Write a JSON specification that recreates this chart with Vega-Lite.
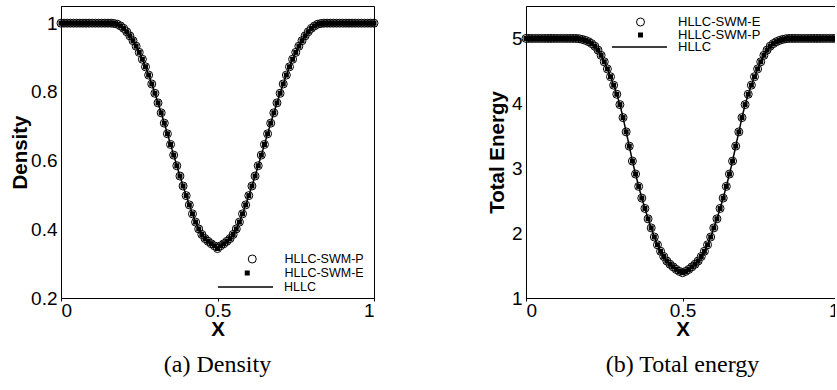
{
  "$schema": "https://vega.github.io/schema/vega-lite/v6.json",
  "background": "white",
  "padding": {"left": 10, "top": 5, "right": -11, "bottom": 0},
  "spacing": 152,
  "bounds": "flush",
  "config": {
    "font": "Liberation Sans",
    "view": {"stroke": "black", "strokeWidth": 1},
    "axis": {
      "grid": false,
      "domainColor": "black",
      "domainWidth": 1,
      "tickColor": "black",
      "labelColor": "black",
      "titleColor": "black",
      "labelFont": "Liberation Sans",
      "labelFontSize": 19,
      "titleFont": "Liberation Sans",
      "titleFontSize": 20.5,
      "titleFontWeight": "bold"
    },
    "axisX": {"tickSize": 3, "labelPadding": 0, "titlePadding": -1, "format": "~g"},
    "axisY": {"ticks": false, "labelPadding": 4, "format": "~g"},
    "legend": {
      "labelFont": "Liberation Sans",
      "labelFontSize": 12.5,
      "labelColor": "black",
      "clipHeight": 12,
      "padding": 0,
      "symbolStrokeColor": "black",
      "symbolStrokeWidth": 1,
      "symbolOpacity": 1,
      "orient": "none"
    },
    "title": {"font": "Liberation Serif", "fontSize": 24, "fontWeight": "normal", "color": "black"}
  },
  "datasets": {
    "density": [
      {"x": 0, "swmP": 1, "swmE": 1, "hllc": 1},
      {"x": 0.01, "swmP": 1, "swmE": 1, "hllc": 1},
      {"x": 0.02, "swmP": 1, "swmE": 1, "hllc": 1},
      {"x": 0.03, "swmP": 1, "swmE": 1, "hllc": 1},
      {"x": 0.04, "swmP": 1, "swmE": 1, "hllc": 1},
      {"x": 0.05, "swmP": 1, "swmE": 1, "hllc": 1},
      {"x": 0.06, "swmP": 1, "swmE": 1, "hllc": 1},
      {"x": 0.07, "swmP": 1, "swmE": 1, "hllc": 1},
      {"x": 0.08, "swmP": 1, "swmE": 1, "hllc": 1},
      {"x": 0.09, "swmP": 1, "swmE": 1, "hllc": 1},
      {"x": 0.1, "swmP": 1, "swmE": 1, "hllc": 1},
      {"x": 0.11, "swmP": 1, "swmE": 1, "hllc": 1},
      {"x": 0.12, "swmP": 1, "swmE": 1, "hllc": 1},
      {"x": 0.13, "swmP": 1, "swmE": 1, "hllc": 1},
      {"x": 0.14, "swmP": 1, "swmE": 1, "hllc": 1},
      {"x": 0.15, "swmP": 1, "swmE": 1, "hllc": 1},
      {"x": 0.16, "swmP": 1, "swmE": 1, "hllc": 1},
      {"x": 0.17, "swmP": 0.999, "swmE": 0.999, "hllc": 0.999},
      {"x": 0.18, "swmP": 0.997, "swmE": 0.997, "hllc": 0.997},
      {"x": 0.19, "swmP": 0.992, "swmE": 0.992, "hllc": 0.992},
      {"x": 0.2, "swmP": 0.985, "swmE": 0.985, "hllc": 0.985},
      {"x": 0.21, "swmP": 0.975, "swmE": 0.975, "hllc": 0.975},
      {"x": 0.22, "swmP": 0.963, "swmE": 0.963, "hllc": 0.963},
      {"x": 0.23, "swmP": 0.949, "swmE": 0.949, "hllc": 0.949},
      {"x": 0.24, "swmP": 0.933, "swmE": 0.933, "hllc": 0.933},
      {"x": 0.25, "swmP": 0.915, "swmE": 0.915, "hllc": 0.915},
      {"x": 0.26, "swmP": 0.895, "swmE": 0.895, "hllc": 0.895},
      {"x": 0.27, "swmP": 0.873, "swmE": 0.873, "hllc": 0.873},
      {"x": 0.28, "swmP": 0.849, "swmE": 0.849, "hllc": 0.849},
      {"x": 0.29, "swmP": 0.823, "swmE": 0.823, "hllc": 0.823},
      {"x": 0.3, "swmP": 0.796, "swmE": 0.796, "hllc": 0.796},
      {"x": 0.31, "swmP": 0.768, "swmE": 0.768, "hllc": 0.768},
      {"x": 0.32, "swmP": 0.739, "swmE": 0.739, "hllc": 0.739},
      {"x": 0.33, "swmP": 0.709, "swmE": 0.709, "hllc": 0.709},
      {"x": 0.34, "swmP": 0.678, "swmE": 0.678, "hllc": 0.678},
      {"x": 0.35, "swmP": 0.647, "swmE": 0.647, "hllc": 0.647},
      {"x": 0.36, "swmP": 0.616, "swmE": 0.616, "hllc": 0.616},
      {"x": 0.37, "swmP": 0.585, "swmE": 0.585, "hllc": 0.585},
      {"x": 0.38, "swmP": 0.555, "swmE": 0.555, "hllc": 0.555},
      {"x": 0.39, "swmP": 0.526, "swmE": 0.526, "hllc": 0.526},
      {"x": 0.4, "swmP": 0.498, "swmE": 0.498, "hllc": 0.498},
      {"x": 0.41, "swmP": 0.471, "swmE": 0.471, "hllc": 0.471},
      {"x": 0.42, "swmP": 0.445, "swmE": 0.445, "hllc": 0.445},
      {"x": 0.43, "swmP": 0.421, "swmE": 0.421, "hllc": 0.421},
      {"x": 0.44, "swmP": 0.401, "swmE": 0.401, "hllc": 0.401},
      {"x": 0.45, "swmP": 0.385, "swmE": 0.385, "hllc": 0.385},
      {"x": 0.46, "swmP": 0.373, "swmE": 0.373, "hllc": 0.373},
      {"x": 0.47, "swmP": 0.365, "swmE": 0.365, "hllc": 0.365},
      {"x": 0.48, "swmP": 0.358, "swmE": 0.358, "hllc": 0.358},
      {"x": 0.49, "swmP": 0.352, "swmE": 0.352, "hllc": 0.352},
      {"x": 0.5, "swmP": 0.344, "swmE": 0.344, "hllc": 0.344},
      {"x": 0.51, "swmP": 0.352, "swmE": 0.352, "hllc": 0.352},
      {"x": 0.52, "swmP": 0.358, "swmE": 0.358, "hllc": 0.358},
      {"x": 0.53, "swmP": 0.365, "swmE": 0.365, "hllc": 0.365},
      {"x": 0.54, "swmP": 0.373, "swmE": 0.373, "hllc": 0.373},
      {"x": 0.55, "swmP": 0.385, "swmE": 0.385, "hllc": 0.385},
      {"x": 0.56, "swmP": 0.401, "swmE": 0.401, "hllc": 0.401},
      {"x": 0.57, "swmP": 0.421, "swmE": 0.421, "hllc": 0.421},
      {"x": 0.58, "swmP": 0.445, "swmE": 0.445, "hllc": 0.445},
      {"x": 0.59, "swmP": 0.471, "swmE": 0.471, "hllc": 0.471},
      {"x": 0.6, "swmP": 0.498, "swmE": 0.498, "hllc": 0.498},
      {"x": 0.61, "swmP": 0.526, "swmE": 0.526, "hllc": 0.526},
      {"x": 0.62, "swmP": 0.555, "swmE": 0.555, "hllc": 0.555},
      {"x": 0.63, "swmP": 0.585, "swmE": 0.585, "hllc": 0.585},
      {"x": 0.64, "swmP": 0.616, "swmE": 0.616, "hllc": 0.616},
      {"x": 0.65, "swmP": 0.647, "swmE": 0.647, "hllc": 0.647},
      {"x": 0.66, "swmP": 0.678, "swmE": 0.678, "hllc": 0.678},
      {"x": 0.67, "swmP": 0.709, "swmE": 0.709, "hllc": 0.709},
      {"x": 0.68, "swmP": 0.739, "swmE": 0.739, "hllc": 0.739},
      {"x": 0.69, "swmP": 0.768, "swmE": 0.768, "hllc": 0.768},
      {"x": 0.7, "swmP": 0.796, "swmE": 0.796, "hllc": 0.796},
      {"x": 0.71, "swmP": 0.823, "swmE": 0.823, "hllc": 0.823},
      {"x": 0.72, "swmP": 0.849, "swmE": 0.849, "hllc": 0.849},
      {"x": 0.73, "swmP": 0.873, "swmE": 0.873, "hllc": 0.873},
      {"x": 0.74, "swmP": 0.895, "swmE": 0.895, "hllc": 0.895},
      {"x": 0.75, "swmP": 0.915, "swmE": 0.915, "hllc": 0.915},
      {"x": 0.76, "swmP": 0.933, "swmE": 0.933, "hllc": 0.933},
      {"x": 0.77, "swmP": 0.949, "swmE": 0.949, "hllc": 0.949},
      {"x": 0.78, "swmP": 0.963, "swmE": 0.963, "hllc": 0.963},
      {"x": 0.79, "swmP": 0.975, "swmE": 0.975, "hllc": 0.975},
      {"x": 0.8, "swmP": 0.985, "swmE": 0.985, "hllc": 0.985},
      {"x": 0.81, "swmP": 0.992, "swmE": 0.992, "hllc": 0.992},
      {"x": 0.82, "swmP": 0.997, "swmE": 0.997, "hllc": 0.997},
      {"x": 0.83, "swmP": 0.999, "swmE": 0.999, "hllc": 0.999},
      {"x": 0.84, "swmP": 1, "swmE": 1, "hllc": 1},
      {"x": 0.85, "swmP": 1, "swmE": 1, "hllc": 1},
      {"x": 0.86, "swmP": 1, "swmE": 1, "hllc": 1},
      {"x": 0.87, "swmP": 1, "swmE": 1, "hllc": 1},
      {"x": 0.88, "swmP": 1, "swmE": 1, "hllc": 1},
      {"x": 0.89, "swmP": 1, "swmE": 1, "hllc": 1},
      {"x": 0.9, "swmP": 1, "swmE": 1, "hllc": 1},
      {"x": 0.91, "swmP": 1, "swmE": 1, "hllc": 1},
      {"x": 0.92, "swmP": 1, "swmE": 1, "hllc": 1},
      {"x": 0.93, "swmP": 1, "swmE": 1, "hllc": 1},
      {"x": 0.94, "swmP": 1, "swmE": 1, "hllc": 1},
      {"x": 0.95, "swmP": 1, "swmE": 1, "hllc": 1},
      {"x": 0.96, "swmP": 1, "swmE": 1, "hllc": 1},
      {"x": 0.97, "swmP": 1, "swmE": 1, "hllc": 1},
      {"x": 0.98, "swmP": 1, "swmE": 1, "hllc": 1},
      {"x": 0.99, "swmP": 1, "swmE": 1, "hllc": 1},
      {"x": 1, "swmP": 1, "swmE": 1, "hllc": 1}
    ],
    "energy": [
      {"x": 0, "swmP": 5, "swmE": 5, "hllc": 5},
      {"x": 0.01, "swmP": 5, "swmE": 5, "hllc": 5},
      {"x": 0.02, "swmP": 5, "swmE": 5, "hllc": 5},
      {"x": 0.03, "swmP": 5, "swmE": 5, "hllc": 5},
      {"x": 0.04, "swmP": 5, "swmE": 5, "hllc": 5},
      {"x": 0.05, "swmP": 5, "swmE": 5, "hllc": 5},
      {"x": 0.06, "swmP": 5, "swmE": 5, "hllc": 5},
      {"x": 0.07, "swmP": 5, "swmE": 5, "hllc": 5},
      {"x": 0.08, "swmP": 5, "swmE": 5, "hllc": 5},
      {"x": 0.09, "swmP": 5, "swmE": 5, "hllc": 5},
      {"x": 0.1, "swmP": 5, "swmE": 5, "hllc": 5},
      {"x": 0.11, "swmP": 5, "swmE": 5, "hllc": 5},
      {"x": 0.12, "swmP": 5, "swmE": 5, "hllc": 5},
      {"x": 0.13, "swmP": 5, "swmE": 5, "hllc": 5},
      {"x": 0.14, "swmP": 5, "swmE": 5, "hllc": 5},
      {"x": 0.15, "swmP": 5, "swmE": 5, "hllc": 5},
      {"x": 0.16, "swmP": 5, "swmE": 5, "hllc": 5},
      {"x": 0.17, "swmP": 4.995, "swmE": 4.995, "hllc": 4.995},
      {"x": 0.18, "swmP": 4.985, "swmE": 4.985, "hllc": 4.985},
      {"x": 0.19, "swmP": 4.97, "swmE": 4.97, "hllc": 4.97},
      {"x": 0.2, "swmP": 4.95, "swmE": 4.95, "hllc": 4.95},
      {"x": 0.21, "swmP": 4.92, "swmE": 4.92, "hllc": 4.92},
      {"x": 0.22, "swmP": 4.88, "swmE": 4.88, "hllc": 4.88},
      {"x": 0.23, "swmP": 4.82, "swmE": 4.82, "hllc": 4.82},
      {"x": 0.24, "swmP": 4.74, "swmE": 4.74, "hllc": 4.74},
      {"x": 0.25, "swmP": 4.64, "swmE": 4.64, "hllc": 4.64},
      {"x": 0.26, "swmP": 4.53, "swmE": 4.53, "hllc": 4.53},
      {"x": 0.27, "swmP": 4.41, "swmE": 4.41, "hllc": 4.41},
      {"x": 0.28, "swmP": 4.28, "swmE": 4.28, "hllc": 4.28},
      {"x": 0.29, "swmP": 4.14, "swmE": 4.14, "hllc": 4.14},
      {"x": 0.3, "swmP": 3.98, "swmE": 3.98, "hllc": 3.98},
      {"x": 0.31, "swmP": 3.78, "swmE": 3.78, "hllc": 3.78},
      {"x": 0.32, "swmP": 3.56, "swmE": 3.56, "hllc": 3.56},
      {"x": 0.33, "swmP": 3.34, "swmE": 3.34, "hllc": 3.34},
      {"x": 0.34, "swmP": 3.11, "swmE": 3.11, "hllc": 3.11},
      {"x": 0.35, "swmP": 2.91, "swmE": 2.91, "hllc": 2.91},
      {"x": 0.36, "swmP": 2.72, "swmE": 2.72, "hllc": 2.72},
      {"x": 0.37, "swmP": 2.54, "swmE": 2.54, "hllc": 2.54},
      {"x": 0.38, "swmP": 2.38, "swmE": 2.38, "hllc": 2.38},
      {"x": 0.39, "swmP": 2.22, "swmE": 2.22, "hllc": 2.22},
      {"x": 0.4, "swmP": 2.08, "swmE": 2.08, "hllc": 2.08},
      {"x": 0.41, "swmP": 1.94, "swmE": 1.94, "hllc": 1.94},
      {"x": 0.42, "swmP": 1.82, "swmE": 1.82, "hllc": 1.82},
      {"x": 0.43, "swmP": 1.72, "swmE": 1.72, "hllc": 1.72},
      {"x": 0.44, "swmP": 1.64, "swmE": 1.64, "hllc": 1.64},
      {"x": 0.45, "swmP": 1.57, "swmE": 1.57, "hllc": 1.57},
      {"x": 0.46, "swmP": 1.52, "swmE": 1.52, "hllc": 1.52},
      {"x": 0.47, "swmP": 1.48, "swmE": 1.48, "hllc": 1.48},
      {"x": 0.48, "swmP": 1.44, "swmE": 1.44, "hllc": 1.44},
      {"x": 0.49, "swmP": 1.41, "swmE": 1.41, "hllc": 1.41},
      {"x": 0.5, "swmP": 1.39, "swmE": 1.39, "hllc": 1.39},
      {"x": 0.51, "swmP": 1.41, "swmE": 1.41, "hllc": 1.41},
      {"x": 0.52, "swmP": 1.44, "swmE": 1.44, "hllc": 1.44},
      {"x": 0.53, "swmP": 1.48, "swmE": 1.48, "hllc": 1.48},
      {"x": 0.54, "swmP": 1.52, "swmE": 1.52, "hllc": 1.52},
      {"x": 0.55, "swmP": 1.57, "swmE": 1.57, "hllc": 1.57},
      {"x": 0.56, "swmP": 1.64, "swmE": 1.64, "hllc": 1.64},
      {"x": 0.57, "swmP": 1.72, "swmE": 1.72, "hllc": 1.72},
      {"x": 0.58, "swmP": 1.82, "swmE": 1.82, "hllc": 1.82},
      {"x": 0.59, "swmP": 1.94, "swmE": 1.94, "hllc": 1.94},
      {"x": 0.6, "swmP": 2.08, "swmE": 2.08, "hllc": 2.08},
      {"x": 0.61, "swmP": 2.22, "swmE": 2.22, "hllc": 2.22},
      {"x": 0.62, "swmP": 2.38, "swmE": 2.38, "hllc": 2.38},
      {"x": 0.63, "swmP": 2.54, "swmE": 2.54, "hllc": 2.54},
      {"x": 0.64, "swmP": 2.72, "swmE": 2.72, "hllc": 2.72},
      {"x": 0.65, "swmP": 2.91, "swmE": 2.91, "hllc": 2.91},
      {"x": 0.66, "swmP": 3.11, "swmE": 3.11, "hllc": 3.11},
      {"x": 0.67, "swmP": 3.34, "swmE": 3.34, "hllc": 3.34},
      {"x": 0.68, "swmP": 3.56, "swmE": 3.56, "hllc": 3.56},
      {"x": 0.69, "swmP": 3.78, "swmE": 3.78, "hllc": 3.78},
      {"x": 0.7, "swmP": 3.98, "swmE": 3.98, "hllc": 3.98},
      {"x": 0.71, "swmP": 4.14, "swmE": 4.14, "hllc": 4.14},
      {"x": 0.72, "swmP": 4.28, "swmE": 4.28, "hllc": 4.28},
      {"x": 0.73, "swmP": 4.41, "swmE": 4.41, "hllc": 4.41},
      {"x": 0.74, "swmP": 4.53, "swmE": 4.53, "hllc": 4.53},
      {"x": 0.75, "swmP": 4.64, "swmE": 4.64, "hllc": 4.64},
      {"x": 0.76, "swmP": 4.74, "swmE": 4.74, "hllc": 4.74},
      {"x": 0.77, "swmP": 4.82, "swmE": 4.82, "hllc": 4.82},
      {"x": 0.78, "swmP": 4.88, "swmE": 4.88, "hllc": 4.88},
      {"x": 0.79, "swmP": 4.92, "swmE": 4.92, "hllc": 4.92},
      {"x": 0.8, "swmP": 4.95, "swmE": 4.95, "hllc": 4.95},
      {"x": 0.81, "swmP": 4.97, "swmE": 4.97, "hllc": 4.97},
      {"x": 0.82, "swmP": 4.985, "swmE": 4.985, "hllc": 4.985},
      {"x": 0.83, "swmP": 4.995, "swmE": 4.995, "hllc": 4.995},
      {"x": 0.84, "swmP": 5, "swmE": 5, "hllc": 5},
      {"x": 0.85, "swmP": 5, "swmE": 5, "hllc": 5},
      {"x": 0.86, "swmP": 5, "swmE": 5, "hllc": 5},
      {"x": 0.87, "swmP": 5, "swmE": 5, "hllc": 5},
      {"x": 0.88, "swmP": 5, "swmE": 5, "hllc": 5},
      {"x": 0.89, "swmP": 5, "swmE": 5, "hllc": 5},
      {"x": 0.9, "swmP": 5, "swmE": 5, "hllc": 5},
      {"x": 0.91, "swmP": 5, "swmE": 5, "hllc": 5},
      {"x": 0.92, "swmP": 5, "swmE": 5, "hllc": 5},
      {"x": 0.93, "swmP": 5, "swmE": 5, "hllc": 5},
      {"x": 0.94, "swmP": 5, "swmE": 5, "hllc": 5},
      {"x": 0.95, "swmP": 5, "swmE": 5, "hllc": 5},
      {"x": 0.96, "swmP": 5, "swmE": 5, "hllc": 5},
      {"x": 0.97, "swmP": 5, "swmE": 5, "hllc": 5},
      {"x": 0.98, "swmP": 5, "swmE": 5, "hllc": 5},
      {"x": 0.99, "swmP": 5, "swmE": 5, "hllc": 5},
      {"x": 1, "swmP": 5, "swmE": 5, "hllc": 5}
    ]
  },
  "resolve": {
    "scale": {"x": "independent", "y": "independent", "shape": "independent", "fill": "independent", "strokeDash": "independent"},
    "legend": {"shape": "independent", "fill": "independent", "strokeDash": "independent"}
  },
  "hconcat": [
    {
      "width": 313,
      "height": 292,
      "title": {"text": "(a) Density", "orient": "bottom", "anchor": "middle", "offset": 13},
      "data": {"name": "density"},
      "encoding": {
        "x": {"field": "x", "type": "quantitative", "title": "X",
              "scale": {"domain": [0, 1], "nice": false},
              "axis": {"values": [0, 0.5, 1]}}
      },
      "layer": [
        {
          "mark": {"type": "line", "color": "black", "strokeWidth": 1.5},
          "encoding": {
            "y": {"field": "hllc", "type": "quantitative", "title": "Density",
                  "scale": {"domain": [0.2, 1.05], "nice": false, "zero": false},
                  "axis": {"values": [0.2, 0.4, 0.6, 0.8, 1], "titlePadding": 0}},
            "strokeDash": {
              "datum": "HLLC",
              "scale": {"domain": ["HLLC"], "range": [[1, 0]]},
              "legend": {"title": null, "legendX": 156, "legendY": 275, "symbolType": "stroke", "symbolSize": 3025, "symbolStrokeWidth": 1.5, "labelOffset": 10}
            }
          }
        },
        {
          "mark": {"type": "point", "filled": false, "color": "black", "strokeWidth": 1, "size": 64, "opacity": 1},
          "encoding": {
            "y": {"field": "swmP", "type": "quantitative"},
            "shape": {
              "datum": "HLLC-SWM-P",
              "scale": {"domain": ["HLLC-SWM-P"], "range": ["circle"]},
              "legend": {"title": null, "legendX": 185, "legendY": 247, "symbolSize": 64, "symbolFillColor": "transparent", "labelOffset": 26}
            }
          }
        },
        {
          "mark": {"type": "point", "filled": true, "shape": "square", "size": 25, "opacity": 1},
          "encoding": {
            "y": {"field": "swmE", "type": "quantitative"},
            "fill": {
              "datum": "HLLC-SWM-E",
              "scale": {"domain": ["HLLC-SWM-E"], "range": ["black"]},
              "legend": {"title": null, "legendX": 180, "legendY": 261, "symbolType": "square", "symbolSize": 25, "symbolStrokeWidth": 0, "labelOffset": 31}
            }
          }
        }
      ]
    },
    {
      "width": 313,
      "height": 292,
      "title": {"text": "(b) Total energy", "orient": "bottom", "anchor": "middle", "offset": 13},
      "data": {"name": "energy"},
      "encoding": {
        "x": {"field": "x", "type": "quantitative", "title": "X",
              "scale": {"domain": [0, 1], "nice": false},
              "axis": {"values": [0, 0.5, 1]}}
      },
      "layer": [
        {
          "mark": {"type": "line", "color": "black", "strokeWidth": 1.5},
          "encoding": {
            "y": {"field": "hllc", "type": "quantitative", "title": "Total Energy",
                  "scale": {"domain": [1, 5.5], "nice": false, "zero": false},
                  "axis": {"values": [1, 2, 3, 4, 5], "titlePadding": 4}},
            "strokeDash": {
              "datum": "HLLC",
              "scale": {"domain": ["HLLC"], "range": [[1, 0]]},
              "legend": {"title": null, "legendX": 85, "legendY": 35, "symbolType": "stroke", "symbolSize": 3025, "symbolStrokeWidth": 1.5, "labelOffset": 10, "labelFontSize": 13}
            }
          }
        },
        {
          "mark": {"type": "point", "filled": false, "color": "black", "strokeWidth": 1, "size": 64, "opacity": 1},
          "encoding": {
            "y": {"field": "swmE", "type": "quantitative"},
            "shape": {
              "datum": "HLLC-SWM-E",
              "scale": {"domain": ["HLLC-SWM-E"], "range": ["circle"]},
              "legend": {"title": null, "legendX": 108, "legendY": 10, "symbolSize": 64, "symbolFillColor": "transparent", "labelOffset": 31, "labelFontSize": 13}
            }
          }
        },
        {
          "mark": {"type": "point", "filled": true, "shape": "square", "size": 25, "opacity": 1},
          "encoding": {
            "y": {"field": "swmP", "type": "quantitative"},
            "fill": {
              "datum": "HLLC-SWM-P",
              "scale": {"domain": ["HLLC-SWM-P"], "range": ["black"]},
              "legend": {"title": null, "legendX": 108, "legendY": 23, "symbolType": "square", "symbolSize": 25, "symbolStrokeWidth": 0, "labelOffset": 31, "labelFontSize": 13}
            }
          }
        }
      ]
    }
  ]
}
